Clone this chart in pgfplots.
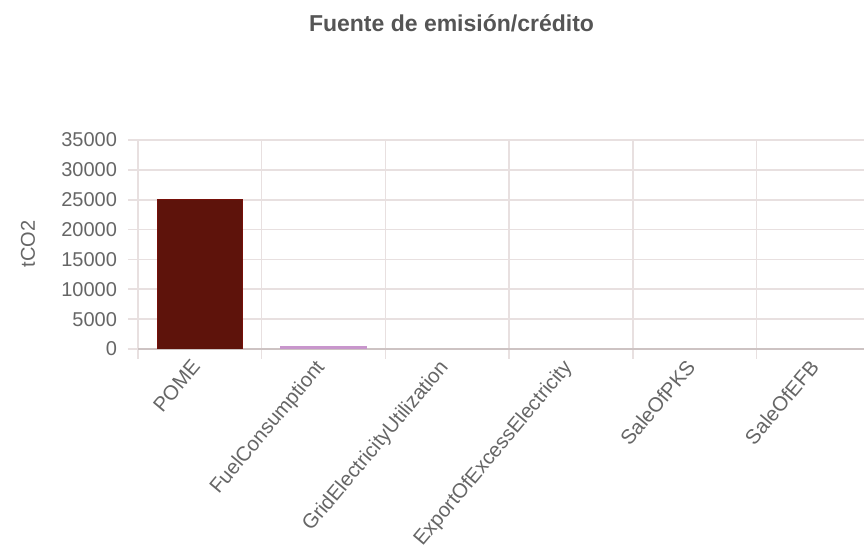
\documentclass[border=0pt]{standalone}
\usepackage{fontspec}
\setmainfont{Liberation Sans}
\usepackage{pgfplots}
\pgfplotsset{compat=1.18}

\definecolor{gridc}{RGB}{232,224,224}
\definecolor{zeroc}{RGB}{205,195,195}
\definecolor{labc}{RGB}{102,102,102}
\definecolor{titlec}{RGB}{85,85,85}
\definecolor{pome}{RGB}{94,19,11}
\definecolor{fuel}{RGB}{200,150,204}

\begin{document}
\begin{tikzpicture}
\useasboundingbox (-69pt,-105.5pt) rectangle (363pt,174.5pt);
\begin{axis}[
  scale only axis,
  width=363pt, height=104.5pt,
  at={(0,0)}, anchor=south west,
  xmin=-0.5, xmax=5.37,
  ymin=0, ymax=35000,
  ytick={0,5000,...,35000},
  scaled y ticks=false,
  /pgf/number format/1000 sep={},
  /pgf/number format/assume math mode=true,
  xtick={0,1,2,3,4,5},
  xticklabels={POME,FuelConsumptiont,GridElectricityUtilization,ExportOfExcessElectricity,SaleOfPKS,SaleOfEFB},
  minor xtick={-0.5,0.5,1.5,2.5,3.5,4.5},
  xminorgrids, ymajorgrids,
  grid style={gridc, line width=0.8pt},
  minor grid style={gridc, line width=0.8pt},
  extra y ticks={0},
  extra y tick labels={},
  extra y tick style={grid style={zeroc, line width=1pt}},
  axis line style={draw=none},
  tick pos=left,
  tick align=outside,
  major tick length=5pt,
  minor tick length=5pt,
  xtick style={draw=none},
  minor x tick style={draw=gridc, line width=0.8pt},
  ytick style={draw=gridc, line width=0.8pt},
  yticklabel style={font=\fontsize{10}{12}\selectfont, text=labc, xshift=-2pt},
  xticklabel style={font=\fontsize{10.2}{12}\selectfont, text=labc, rotate=50, anchor=north east, yshift=7.4pt, xshift=0.7pt},
  ylabel={tCO2},
  every axis y label/.style={at={(rel axis cs:0,0.502)}, xshift=-55pt, rotate=90, anchor=center, font=\fontsize{10}{12}\selectfont, text=labc},
  ybar, bar width=0.69, bar shift=0pt,
]
\addplot[fill=pome, draw=pome!85!red] coordinates {(0,25100)};
\addplot[fill=fuel, draw=fuel] coordinates {(1,500)};
\end{axis}
\node[anchor=base, font=\bfseries\fontsize{11.5}{14}\selectfont, text=titlec] at (156.75pt,158.5pt) {Fuente de emisión/crédito};
\end{tikzpicture}
\end{document}
